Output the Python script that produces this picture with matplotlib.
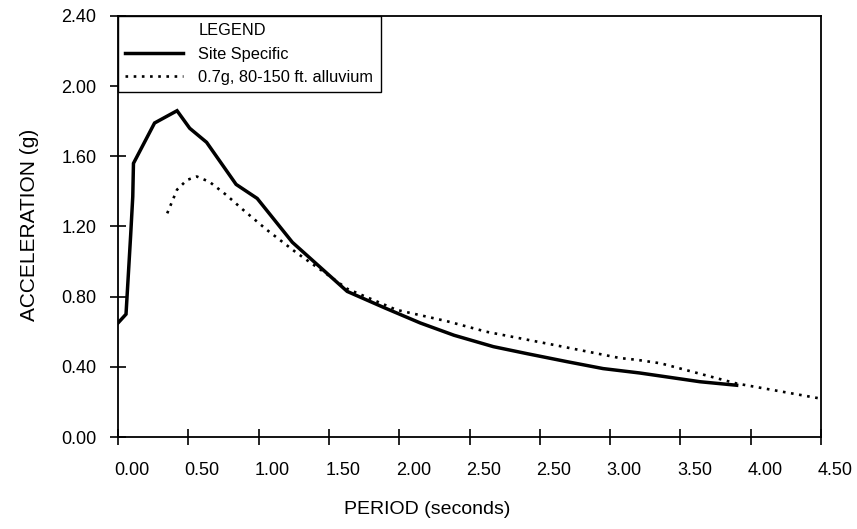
import matplotlib.pyplot as plt
from matplotlib.lines import Line2D
from matplotlib.transforms import ScaledTranslation

plt.rcParams["font.family"] = ["Liberation Sans", "DejaVu Sans"]

# plot units: one tick every 0.5, labels copied as printed (2.50 appears twice)
X_TICKS = [0.0, 0.5, 1.0, 1.5, 2.0, 2.5, 3.0, 3.5, 4.0, 4.5, 5.0]
X_TICK_LABELS = ["0.00", "0.50", "1.00", "1.50", "2.00", "2.50",
                 "2.50", "3.00", "3.50", "4.00", "4.50"]
Y_TICKS = [0.0, 0.4, 0.8, 1.2, 1.6, 2.0, 2.4]

site_x = [0.0, 0.057, 0.09, 0.105, 0.11, 0.26, 0.42, 0.51, 0.63, 0.84, 0.99,
          1.24, 1.63, 1.90, 2.15, 2.39, 2.67, 2.91, 3.19, 3.45, 3.71, 4.14, 4.40]
site_y = [0.65, 0.70, 1.15, 1.37, 1.56, 1.79, 1.86, 1.76, 1.68, 1.44, 1.36,
          1.11, 0.83, 0.735, 0.65, 0.58, 0.515, 0.475, 0.43, 0.39, 0.365, 0.315, 0.295]

alluv_x = [0.35, 0.42, 0.49, 0.56, 0.65, 0.77, 0.89, 1.06, 1.27, 1.50, 1.63,
           1.98, 2.34, 2.62, 3.10, 3.57, 3.69, 3.86, 4.40, 4.99]
alluv_y = [1.275, 1.41, 1.465, 1.485, 1.455, 1.38, 1.295, 1.18, 1.05, 0.92, 0.845,
           0.725, 0.66, 0.60, 0.525, 0.45, 0.44, 0.42, 0.305, 0.22]

fig = plt.figure(figsize=(8.57, 5.29), dpi=100)
ax = fig.add_axes([118 / 857, 92 / 529, 703 / 857, 421 / 529])

ax.plot(site_x, site_y, color="black", lw=2.5, solid_joinstyle="miter")
ax.plot(alluv_x, alluv_y, color="black", lw=1.9, linestyle=(0, (1, 2.1)))

ax.set_xlim(0, 5.0)
ax.set_ylim(0, 2.4)
ax.set_xticks(X_TICKS)
ax.set_xticklabels(X_TICK_LABELS)
ax.set_yticks(Y_TICKS)
ax.set_yticklabels([f"{v:.2f}" for v in Y_TICKS])
ax.tick_params(direction="inout", length=11, width=1.2, labelsize=13)
ax.tick_params(axis="y", pad=10)
ax.tick_params(axis="x", pad=12.5)

# printed labels sit a little right of their ticks
offset = ScaledTranslation(14 / 100, 0, fig.dpi_scale_trans)
for lab in ax.get_xticklabels():
    lab.set_transform(lab.get_transform() + offset)

for side in ["left", "right", "top", "bottom"]:
    ax.spines[side].set_linewidth(1.3)

ax.set_xlabel("PERIOD (seconds)", fontsize=14)
ax.set_ylabel("ACCELERATION (g)", fontsize=15)
ax.xaxis.set_label_coords(0.44, -0.152)
ax.yaxis.set_label_coords(-0.112, 0.504)

handles = [
    Line2D([], [], color="none"),
    Line2D([], [], color="black", lw=2.5),
    Line2D([], [], color="black", lw=1.9, linestyle=(0, (1, 2.1))),
]
labels = ["LEGEND", "Site Specific", "0.7g, 80-150 ft. alluvium"]
leg = ax.legend(handles, labels, loc="upper left", borderaxespad=0,
                fancybox=False, edgecolor="black", framealpha=1,
                fontsize=11.8, handlelength=3.5, handletextpad=0.95,
                labelspacing=0.5, borderpad=0.45)
leg.get_frame().set_linewidth(1.0)

fig.savefig("out.png", dpi=100)
